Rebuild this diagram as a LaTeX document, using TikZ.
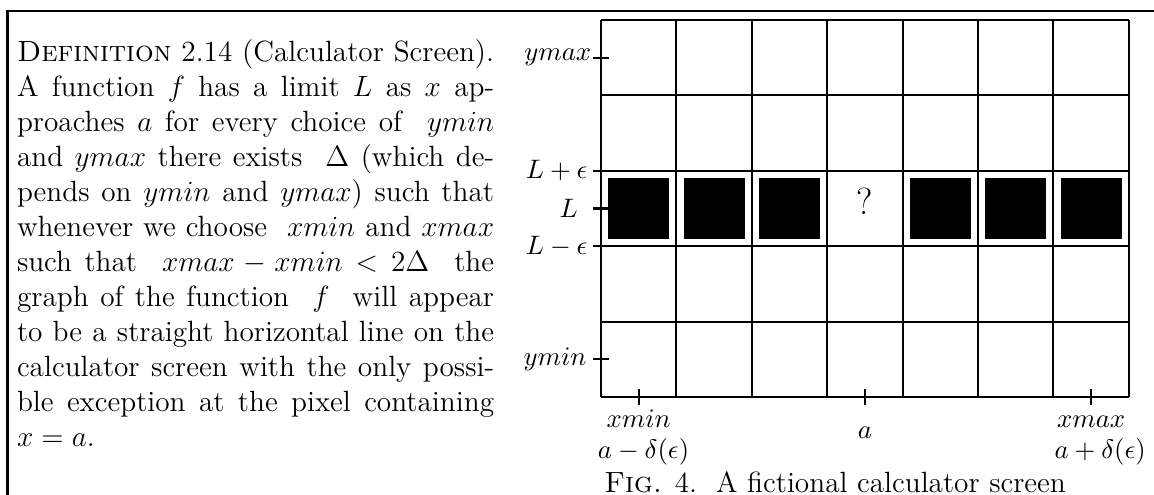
\documentclass[tikz,border=0pt]{standalone}
\begin{document}
\begin{tikzpicture}[x=30.914pt, y=30.914pt, line width=0.85pt, every node/.style={font=\fontsize{11}{13}\selectfont}]
  \useasboundingbox (-7.971,-1.300) rectangle (7.334,5.265);
  % Frame round the definition
  \draw[line width=1pt] (-7.871,-1.300) |- (7.334,5.119);
  % Definition text
  \node[anchor=north west, inner sep=0pt, text width=195.6pt, align=justify,
        font=\fontsize{12}{14.35}\selectfont] (defn) at (-7.759,4.760)
  {\textsc{Definition} 2.14 (Calculator Screen).\linebreak
   A function $f$ has a limit $L$ as $x$ ap-\linebreak
   proaches $a$ for every choice of \ $ymin$\linebreak
   and $ymax$ there exists \ $\Delta$ (which de-\linebreak
   pends on $ymin$ and $ymax$) such that\linebreak
   whenever we choose \ $xmin$ and $xmax$\linebreak
   such that \ $xmax - xmin < 2\Delta$ \ the\linebreak
   graph of the function \ $f$ \ will appear\linebreak
   to be a straight horizontal line on the\linebreak
   calculator screen with the only possi-\linebreak
   ble exception at the pixel containing\linebreak
   $x = a$.};
  % Screen grid, L+eps and L-eps lines reach past the left edge
  \draw[step=1] (0,0) grid (7,5);
  \draw (-0.1,3) -- (0,3);
  \draw (-0.1,2) -- (0,2);
  % Ticks
  \draw (-0.1,4.5) -- (0.1,4.5);
  \draw (-0.1,2.5) -- (0.1,2.5);
  \draw (-0.1,0.5) -- (0.1,0.5);
  \draw (0.5,-0.1) -- (0.5,0.1);
  \draw (3.5,-0.1) -- (3.5,0.1);
  \draw (6.5,-0.1) -- (6.5,0.1);
  % Lit pixels
  \fill (0.095,2.095) rectangle (0.905,2.905);
  \fill (1.095,2.095) rectangle (1.905,2.905);
  \fill (2.095,2.095) rectangle (2.905,2.905);
  \fill (4.095,2.095) rectangle (4.905,2.905);
  \fill (5.095,2.095) rectangle (5.905,2.905);
  \fill (6.095,2.095) rectangle (6.905,2.905);
  \node[anchor=base, font=\fontsize{15.5}{18}\selectfont, inner sep=0pt] (qmark) at (3.5,2.414) {?};
  % Labels on the left
  \node[anchor=east, inner sep=0.5pt] (ymaxlbl) at (-0.1,4.5) {$ymax$};
  \node[anchor=east, inner sep=2pt] (lpluslbl) at (-0.1,3) {$L+\epsilon$};
  \node[anchor=east, inner sep=6pt] (llbl) at (-0.1,2.5) {$L$};
  \node[anchor=east, inner sep=2pt] (lminuslbl) at (-0.1,2) {$L-\epsilon$};
  \node[anchor=east, inner sep=2.5pt] (yminlbl) at (-0.1,0.5) {$ymin$};
  % Labels below
  \node[anchor=base, inner sep=0pt] (xminlbl) at (0.5,-0.411) {$xmin$};
  \node[anchor=base, inner sep=0pt, xshift=2pt] (xleftlbl) at (0.5,-0.822) {$a-\delta(\epsilon)$};
  \node[anchor=base, inner sep=0pt] (albl) at (3.5,-0.55) {$a$};
  \node[anchor=base, inner sep=0pt] (xmaxlbl) at (6.5,-0.411) {$xmax$};
  \node[anchor=base, inner sep=0pt, xshift=3.7pt] (xrightlbl) at (6.5,-0.822) {$a+\delta(\epsilon)$};
  \node[anchor=base west, inner sep=0pt, font=\fontsize{12}{14.5}\selectfont] (caption) at (0.03,-1.269) {\textsc{Fig.} 4.\ \ A fictional calculator screen};
\end{tikzpicture}
\end{document}
